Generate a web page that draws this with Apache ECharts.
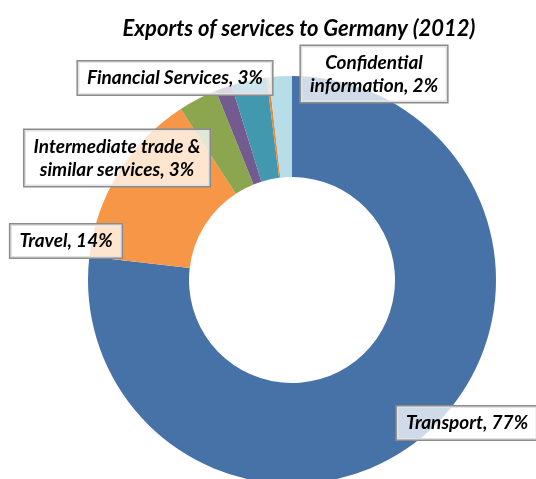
<!DOCTYPE html>
<html>
<head>
<meta charset="utf-8">
<script src="https://cdn.jsdelivr.net/npm/echarts@6/dist/echarts.min.js"></script>
<style>
  html, body { margin: 0; padding: 0; background: #fff; }
  #main { width: 536px; height: 479px; }
</style>
</head>
<body>
<div id="main"></div>
<script>
// slices, clockwise from 12 o'clock
var categories = [
  'Transport',
  'Travel',
  'Intermediate trade &\nsimilar services',
  'Other services',
  'Financial Services',
  'Other',
  'Confidential\ninformation'
];
var values = [77, 14, 3.1, 1.3, 2.8, 0.2, 1.8];
var colors = ['#4672a8', '#f79646', '#8ba64f', '#735a8f', '#4198af', '#e8893a', '#b7dde8'];
var showLabel = [true, true, true, false, true, false, true];

// where each label box sits (centre, px)
var labelPos = [
  { x: 467, y: 423 },
  { x: 66, y: 241 },
  { x: 117, y: 158 },
  null,
  { x: 175, y: 78 },
  null,
  { x: 374, y: 74 }
];

var chart = echarts.init(document.getElementById('main'));

var option = {
  title: {
    text: 'Exports of services to Germany (2012)',
    left: 294,
    top: 13,
    textAlign: 'center',
    textStyle: {
      fontFamily: 'Lato',
      fontStyle: 'italic',
      fontWeight: 'bold',
      fontSize: 22,
      color: '#000'
    }
  },
  series: [{
    type: 'pie',
    center: [292, 280],
    radius: [103, 204],
    startAngle: 90,
    clockwise: true,
    avoidLabelOverlap: false,
    labelLine: { show: false },
    itemStyle: { borderWidth: 0 },
    label: {
      show: true,
      position: 'outside',
      formatter: function (p) {
        return p.name + ', ' + Math.round(p.percent) + '%';
      },
      fontFamily: 'Lato',
      fontStyle: 'italic',
      fontWeight: 'bold',
      fontSize: 19,
      lineHeight: 23,
      color: '#000',
      align: 'center',
      backgroundColor: 'rgba(255,255,255,0.75)',
      borderColor: '#8c8c8c',
      borderWidth: 1.5,
      padding: [5, 9]
    },
    labelLayout: function (params) {
      var pos = labelPos[params.dataIndex];
      if (!pos) return {};
      return { x: pos.x, y: pos.y, align: 'center', verticalAlign: 'middle' };
    },
    data: categories.map(function (c, i) {
      return {
        name: c,
        value: values[i],
        itemStyle: { color: colors[i] },
        label: { show: showLabel[i] }
      };
    })
  }]
};

chart.setOption(option);
</script>
</body>
</html>
